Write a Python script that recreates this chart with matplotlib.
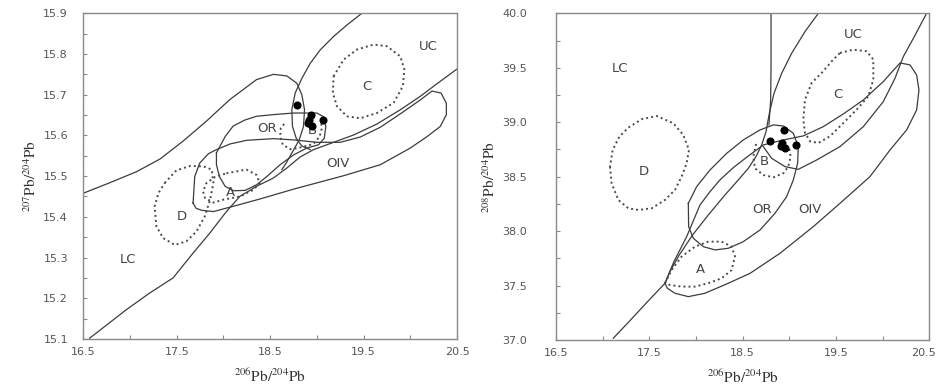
import matplotlib
matplotlib.use("Agg")
import matplotlib.pyplot as plt
from matplotlib.ticker import MultipleLocator, FormatStrFormatter
from matplotlib.transforms import ScaledTranslation

plt.rcParams['mathtext.fontset'] = 'stix'

# ---------------- sample data ----------------
pb206 = [18.79, 18.94, 18.92, 18.95, 18.91, 19.07]
pb207 = [15.674, 15.650, 15.637, 15.624, 15.630, 15.637]
pb208 = [38.83, 38.93, 38.81, 38.76, 38.78, 38.79]

# ---------------- left panel (207 vs 206) field outlines ----------------
L_lc_upper_x = [16.500, 16.786, 17.071, 17.321, 17.568, 17.818, 18.068, 18.354, 18.536, 18.679,
                18.786, 18.839, 18.868, 18.857, 18.811, 18.743, 18.671, 18.625]
L_lc_upper_y = [15.458, 15.484, 15.511, 15.542, 15.586, 15.635, 15.688, 15.737, 15.750, 15.746,
                15.728, 15.700, 15.663, 15.622, 15.589, 15.561, 15.532, 15.516]
L_lower_x = [16.568, 16.961, 17.211, 17.461, 17.675, 17.854, 18.032, 18.175, 18.354, 18.532,
             18.679, 18.821, 18.964, 19.179, 19.393, 19.643, 19.893, 20.107, 20.286, 20.500]
L_lower_y = [15.102, 15.172, 15.213, 15.250, 15.311, 15.360, 15.413, 15.450, 15.475, 15.495,
             15.520, 15.547, 15.565, 15.583, 15.601, 15.628, 15.663, 15.696, 15.727, 15.763]
L_uc_x = [19.482, 19.321, 19.179, 19.036, 18.929, 18.839, 18.768, 18.732, 18.739, 18.779, 18.839, 18.929]
L_uc_y = [15.900, 15.871, 15.843, 15.810, 15.777, 15.740, 15.704, 15.663, 15.622, 15.593, 15.574, 15.565]
L_or_x = [17.925, 18.018, 18.104, 18.232, 18.354, 18.532, 18.750, 19.000, 19.071, 19.096, 19.079,
          19.018, 18.893, 18.750, 18.607, 18.464, 18.357, 18.232, 18.107, 18.018, 17.957, 17.925, 17.925]
L_or_y = [15.557, 15.597, 15.623, 15.638, 15.647, 15.651, 15.655, 15.655, 15.646, 15.622, 15.593,
          15.577, 15.569, 15.552, 15.528, 15.499, 15.479, 15.465, 15.464, 15.475, 15.499, 15.528, 15.557]
L_oiv_x = [17.675, 17.693, 17.746, 17.839, 17.925, 18.071, 18.250, 18.536, 18.750, 19.000, 19.250,
           19.464, 19.679, 19.893, 20.107, 20.232, 20.329, 20.386, 20.386, 20.321, 20.179, 20.000,
           19.679, 19.286, 18.750, 18.393, 18.107, 17.893, 17.768, 17.707, 17.675]
L_oiv_y = [15.434, 15.499, 15.532, 15.555, 15.565, 15.579, 15.588, 15.592, 15.589, 15.583, 15.583,
           15.596, 15.620, 15.653, 15.687, 15.709, 15.704, 15.679, 15.651, 15.622, 15.597, 15.569,
           15.528, 15.501, 15.468, 15.444, 15.426, 15.413, 15.416, 15.421, 15.434]
# dotted fields
L_a_x = [18.032, 18.246, 18.354, 18.389, 18.318, 18.175, 17.996, 17.893, 17.804, 17.782, 17.818, 17.911, 18.032]
L_a_y = [15.507, 15.516, 15.503, 15.483, 15.466, 15.450, 15.442, 15.435, 15.446, 15.462, 15.483, 15.498, 15.507]
L_b_x = [18.650, 18.614, 18.607, 18.636, 18.714, 18.839, 18.964, 19.029, 19.054, 19.043]
L_b_y = [15.628, 15.618, 15.597, 15.577, 15.566, 15.571, 15.579, 15.597, 15.618, 15.634]
L_c_x = [19.179, 19.286, 19.429, 19.607, 19.750, 19.893, 19.936, 19.921, 19.821, 19.643, 19.464,
         19.321, 19.214, 19.171, 19.179]
L_c_y = [15.745, 15.786, 15.811, 15.823, 15.819, 15.794, 15.762, 15.721, 15.680, 15.655, 15.642,
         15.647, 15.672, 15.705, 15.745]
L_d_x = [17.371, 17.496, 17.643, 17.786, 17.875, 17.893, 17.857, 17.800, 17.711, 17.604, 17.479,
         17.354, 17.282, 17.264, 17.304, 17.371]
L_d_y = [15.483, 15.514, 15.525, 15.524, 15.516, 15.483, 15.442, 15.401, 15.364, 15.340, 15.331,
         15.348, 15.377, 15.426, 15.458, 15.483]
L_labels = ['UC', 'C', 'OR', 'OIV', 'A', 'D', 'LC', 'B']
L_label_x = [20.196, 19.536, 18.464, 19.221, 18.071, 17.554, 16.982, 18.946]
L_label_y = [15.818, 15.720, 15.618, 15.530, 15.460, 15.401, 15.296, 15.612]

# ---------------- right panel (208 vs 206) field outlines ----------------
R_orogen_x = [17.114, 17.293, 17.471, 17.668, 17.721, 17.821, 17.964, 18.132, 18.311, 18.454, 18.561,
              18.643, 18.704, 18.750, 18.786, 18.836, 18.918, 19.025, 19.168, 19.311]
R_orogen_y = [37.016, 37.178, 37.343, 37.521, 37.628, 37.781, 37.965, 38.148, 38.332, 38.470, 38.577,
              38.684, 38.791, 38.913, 39.082, 39.265, 39.449, 39.633, 39.832, 40.000]
R_vert_x = [18.804, 18.804, 18.800, 18.782]
R_vert_y = [40.000, 39.510, 39.204, 38.975]
R_uc_x = [18.721, 18.811, 18.954, 19.096, 19.293, 19.543, 19.793, 20.007, 20.132, 20.221, 20.329, 20.471]
R_uc_y = [38.776, 38.668, 38.592, 38.567, 38.653, 38.776, 38.959, 39.189, 39.403, 39.602, 39.770, 40.000]
R_or_x = [17.918, 18.007, 18.150, 18.329, 18.507, 18.686, 18.829, 18.936, 19.043, 19.096, 19.089, 19.043,
          18.971, 18.846, 18.686, 18.507, 18.346, 18.204, 18.079, 17.971, 17.921, 17.918]
R_or_y = [38.255, 38.408, 38.561, 38.714, 38.837, 38.929, 38.975, 38.965, 38.898, 38.776, 38.623, 38.470,
          38.316, 38.163, 38.010, 37.903, 37.842, 37.827, 37.857, 37.934, 38.041, 38.255]
R_oiv_x = [17.668, 17.764, 17.900, 18.043, 18.150, 18.257, 18.400, 18.543, 18.721, 18.936, 19.150, 19.364,
           19.579, 19.793, 20.007, 20.186, 20.293, 20.364, 20.389, 20.364, 20.257, 20.079, 19.864, 19.543,
           19.257, 18.900, 18.579, 18.346, 18.096, 17.918, 17.775, 17.693, 17.668]
R_oiv_y = [37.521, 37.720, 37.949, 38.240, 38.362, 38.470, 38.583, 38.678, 38.791, 38.837, 38.874, 38.959,
           39.076, 39.204, 39.373, 39.544, 39.526, 39.434, 39.296, 39.112, 38.929, 38.745, 38.500, 38.255,
           38.041, 37.796, 37.612, 37.521, 37.429, 37.398, 37.429, 37.475, 37.521]
R_a_x = [17.668, 17.739, 17.846, 17.989, 18.132, 18.275, 18.382, 18.418, 18.382, 18.275, 18.132, 17.989,
         17.846, 17.721, 17.668]
R_a_y = [37.521, 37.643, 37.766, 37.857, 37.903, 37.903, 37.857, 37.766, 37.643, 37.567, 37.521, 37.490,
         37.490, 37.505, 37.521]
R_b_x = [18.643, 18.614, 18.632, 18.721, 18.829, 18.936, 18.989, 19.014, 19.000]
R_b_y = [38.800, 38.684, 38.577, 38.515, 38.494, 38.531, 38.592, 38.684, 38.760]
R_c_x = [19.543, 19.686, 19.829, 19.900, 19.900, 19.846, 19.721, 19.579, 19.436, 19.311, 19.221, 19.168,
         19.150, 19.168, 19.239, 19.346, 19.471, 19.543]
R_c_y = [39.636, 39.666, 39.651, 39.575, 39.391, 39.238, 39.115, 38.993, 38.871, 38.809, 38.825, 38.901,
         39.024, 39.207, 39.360, 39.452, 39.575, 39.636]
R_d_x = [17.079, 17.096, 17.168, 17.275, 17.382, 17.525, 17.668, 17.775, 17.846, 17.900, 17.925, 17.864,
         17.757, 17.579, 17.418, 17.275, 17.179, 17.107, 17.079]
R_d_y = [38.592, 38.439, 38.286, 38.209, 38.194, 38.209, 38.286, 38.378, 38.500, 38.623, 38.745, 38.883,
         38.990, 39.057, 39.027, 38.950, 38.867, 38.745, 38.592]
R_labels = ['LC', 'UC', 'C', 'D', 'B', 'OR', 'OIV', 'A']
R_label_x = [17.186, 19.686, 19.525, 17.436, 18.729, 18.704, 19.221, 18.043]
R_label_y = [39.495, 39.801, 39.250, 38.546, 38.638, 38.194, 38.194, 37.643]

xticks_major = [16.5, 17.5, 18.5, 19.5, 20.5]

# ---------------- drawing ----------------
LINE_C = '#3c3c3c'
DOT_C = '#4a4a4a'
SPINE_C = '#8a8a8a'
TICK_C = '#555555'
LABEL_FS = 9.5

fig = plt.figure(figsize=(9.39, 3.92), dpi=100)
axL = fig.add_axes([0.0887, 0.1352, 0.398, 0.831])
axR = fig.add_axes([0.5921, 0.1327, 0.3976, 0.8334])


def solid(ax, x, y):
    ax.plot(x, y, color=LINE_C, lw=0.9, solid_joinstyle='round', zorder=2)


def dotted(ax, x, y):
    ax.plot(x, y, color=DOT_C, lw=1.4, ls=(0, (1, 1.6)), zorder=2)


# left
for xs, ys in [(L_lc_upper_x, L_lc_upper_y), (L_lower_x, L_lower_y), (L_uc_x, L_uc_y),
               (L_or_x, L_or_y), (L_oiv_x, L_oiv_y)]:
    solid(axL, xs, ys)
for xs, ys in [(L_a_x, L_a_y), (L_b_x, L_b_y), (L_c_x, L_c_y), (L_d_x, L_d_y)]:
    dotted(axL, xs, ys)
for t, x, y in zip(L_labels, L_label_x, L_label_y):
    axL.text(x, y, t, ha='center', va='center', fontsize=LABEL_FS, color='#444444', zorder=3)
axL.scatter(pb206, pb207, s=34, color='black', zorder=5, linewidths=0)

# right
for xs, ys in [(R_orogen_x, R_orogen_y), (R_vert_x, R_vert_y), (R_uc_x, R_uc_y),
               (R_or_x, R_or_y), (R_oiv_x, R_oiv_y)]:
    solid(axR, xs, ys)
for xs, ys in [(R_a_x, R_a_y), (R_b_x, R_b_y), (R_c_x, R_c_y), (R_d_x, R_d_y)]:
    dotted(axR, xs, ys)
for t, x, y in zip(R_labels, R_label_x, R_label_y):
    axR.text(x, y, t, ha='center', va='center', fontsize=LABEL_FS, color='#444444', zorder=3)
axR.scatter(pb206, pb208, s=34, color='black', zorder=5, linewidths=0)

# axes styling
for ax, ylim, ymaj, ymin, ypad in [(axL, (15.1, 15.9), 0.1, 0.05, 11),
                                   (axR, (37.0, 40.0), 0.5, 0.25, 21)]:
    ax.set_xlim(16.5, 20.5)
    ax.set_ylim(*ylim)
    ax.set_xticks(xticks_major)
    ax.xaxis.set_minor_locator(MultipleLocator(0.5))
    ax.yaxis.set_major_locator(MultipleLocator(ymaj))
    ax.yaxis.set_minor_locator(MultipleLocator(ymin))
    ax.xaxis.set_major_formatter(FormatStrFormatter('%.1f'))
    ax.yaxis.set_major_formatter(FormatStrFormatter('%.1f'))
    ax.tick_params(which='both', direction='in', length=3, width=0.8, color=SPINE_C,
                   top=False, right=False)
    ax.tick_params(axis='x', which='major', labelsize=8, labelcolor=TICK_C, pad=6)
    ax.tick_params(axis='y', which='major', labelsize=8, labelcolor=TICK_C, pad=ypad)
    for sp in ax.spines.values():
        sp.set_color(SPINE_C)
        sp.set_linewidth(1.0)
    ax.set_xlabel(r'$^{206}\mathrm{Pb}/^{204}\mathrm{Pb}$', fontsize=11, color='#333333', labelpad=7)

axL.set_ylabel(r'$^{207}\mathrm{Pb}/^{204}\mathrm{Pb}$', fontsize=11, color='#333333', labelpad=3)
axR.set_ylabel(r'$^{208}\mathrm{Pb}/^{204}\mathrm{Pb}$', fontsize=11, color='#333333', labelpad=3)

# keep the last x tick label of the right panel inside the figure
last = axR.xaxis.get_majorticklabels()[-1]
last.set_transform(last.get_transform() + ScaledTranslation(-4 / 72, 0, fig.dpi_scale_trans))

fig.savefig('out.png', dpi=100)
